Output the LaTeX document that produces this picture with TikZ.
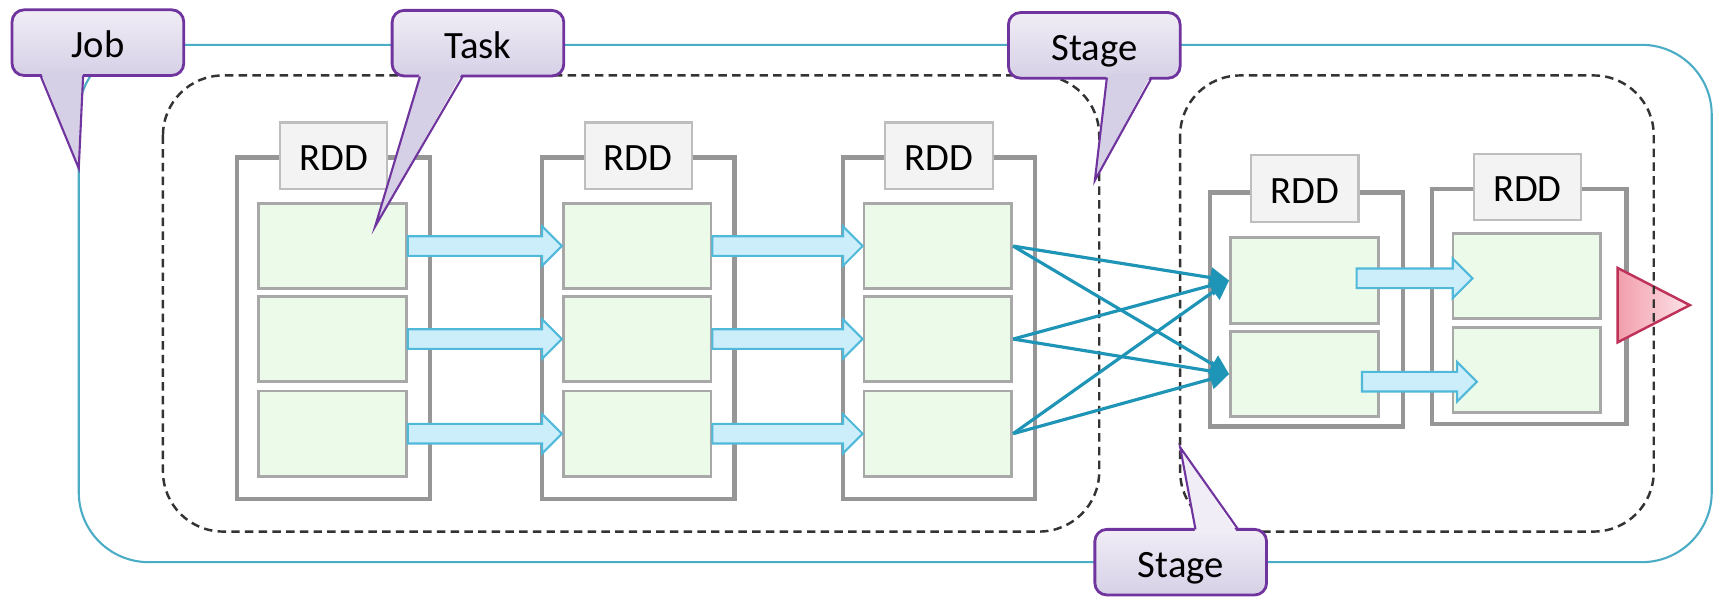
\documentclass[tikz,border=0pt]{standalone}
\usepackage{fontspec}
\setmainfont{Carlito}
\usetikzlibrary{calc,arrows.meta}

\definecolor{jobline}{RGB}{75,172,198}
\definecolor{rddgray}{RGB}{150,150,150}
\definecolor{labelgray}{RGB}{190,190,190}
\definecolor{labelfill}{RGB}{243,243,243}
\definecolor{partgray}{RGB}{168,168,168}
\definecolor{partfill}{RGB}{236,251,233}
\definecolor{fatline}{RGB}{80,185,218}
\definecolor{fatfill}{RGB}{204,238,250}
\definecolor{shuffleblue}{RGB}{30,148,182}
\definecolor{callline}{RGB}{112,52,158}
\definecolor{calltop}{RGB}{240,237,246}
\definecolor{callbot}{RGB}{214,208,230}
\definecolor{trileft}{RGB}{242,158,172}
\definecolor{triright}{RGB}{252,228,233}
\definecolor{triline}{RGB}{190,50,90}

\def\px{0.10938mm}

% wide arrow between partitions, kept horizontal
\newcommand\fatarrow[2]{%
  \path (#1) coordinate (fa1) (#2) coordinate (fa2) (fa1 -| fa2) coordinate (fa3);
  \draw[fatarr] ($(fa1)+(0,-9)$) -- ($(fa3)+(-18,-9)$) -- ($(fa3)+(-18,-18)$) -- (fa3)
    -- ($(fa3)+(-18,18)$) -- ($(fa3)+(-18,9)$) -- ($(fa1)+(0,9)$) -- cycle;}

\begin{document}
\begin{tikzpicture}[x=0.10938mm,y=-0.10938mm,
    rddframe/.style={draw=rddgray,line width=1.2pt},
    rddlabel/.style={draw=labelgray,fill=labelfill,line width=0.6pt,inner sep=0pt,
      minimum width=98*\px,minimum height=61*\px,
      font=\fontsize{11}{13}\selectfont,text height=8.5pt,text depth=0pt},
    part/.style={draw=partgray,fill=partfill,line width=0.8pt,inner sep=0pt,
      minimum width=135*\px,minimum height=78*\px},
    fatarr/.style={draw=fatline,fill=fatfill,line width=0.6pt,line join=miter},
    shuffle/.style={draw=shuffleblue,line width=0.9pt,-{Triangle[length=1.9mm,width=2mm]}},
    stagebox/.style={draw=black!80,line width=0.7pt,dash pattern=on 2.4pt off 1.5pt,rounded corners=6mm},
    callbox/.style={draw=callline,line width=0.8pt,top color=calltop,bottom color=callbot,
      rounded corners=1.2mm,inner sep=0pt,minimum width=157*\px,minimum height=60*\px,
      font=\fontsize{11}{13}\selectfont,text height=8.5pt,text depth=0pt},
    calltail/.style={fill=callbot},
    tailline/.style={draw=callline,line width=0.6pt,line join=miter}]

  \useasboundingbox (0,0) rectangle (1568,545);

  % job
  \draw[jobline,line width=0.6pt,rounded corners=7mm] (72,41) rectangle (1565,514);

  % rdds of the first stage
  \foreach \cx/\c in {305/1,583.5/2,858.5/3}{
    \draw[rddframe] (\cx-88,144) rectangle (\cx+88,456);
    \node[rddlabel] (l\c) at (\cx,142.5) {RDD};
    \foreach \cy/\r in {225/1,310/2,396.5/3}
      \node[part] (p\c\r) at (\cx-1,\cy) {};
  }

  % rdds of the second stage
  \draw[rddframe] (1106,176) rectangle (1283,390);
  \node[rddlabel] (l4) at (1193,172.5) {RDD};
  \node[part] (p41) at (1192.5,256.5) {};
  \node[part] (p42) at (1192.5,342) {};

  \draw[rddframe] (1309,173) rectangle (1487,388);
  \node[rddlabel] (l5) at (1396.5,171) {RDD};
  \node[part] (p51) at (1396,252.5) {};
  \node[part] (p52) at (1396,338.5) {};

  % result
  \draw[draw=triline,line width=0.7pt,line join=miter,left color=trileft,right color=triright]
    (1479,245) -- (1545,279) -- (1479,313) -- cycle;

  % stages
  \draw[stagebox] (149,69) rectangle (1005,486);
  \draw[stagebox] (1079,69) rectangle (1512,486);

  % narrow dependencies
  \foreach \r in {1,2,3}{
    \fatarrow{p1\r.east}{p2\r.west}
    \fatarrow{p2\r.east}{p3\r.west}
  }
  \fatarrow{$(p41.east)+(-21,-2)$}{$(p51.west)+(19,0)$}
  \fatarrow{$(p42.east)+(-16,7)$}{$(p52.west)+(23,0)$}

  % shuffle
  \foreach \a in {1,2,3}
    \foreach \b in {1,2}
      \draw[shuffle] (p3\a.east) -- (p4\b.west);

  % callouts
  \node[callbox] (job) at (89.5,39) {Job};
  \fill[calltail] (37,65) -- (72,154) -- (76,65) -- cycle;
  \draw[tailline] (37,69) -- (72,154) -- (76,69);

  \node[callbox] (task) at (437,39.5) {Task};
  \fill[calltail] (384,66) -- (343,207) -- (423,66) -- cycle;
  \draw[tailline] (384,70) -- (343,207) -- (423,70);

  \node[callbox] (stage1) at (1000.5,41.5) {Stage};
  \fill[calltail] (1012,67) -- (1001,165) -- (1053,67) -- cycle;
  \draw[tailline] (1012,71) -- (1001,165) -- (1053,71);

  \node[callbox] (stage2) at (1079.5,514) {Stage};
  \fill[calltail,fill=calltop] (1093,488) -- (1079,409) -- (1132,488) -- cycle;
  \draw[tailline] (1093,484) -- (1079,409) -- (1132,484);
\end{tikzpicture}
\end{document}
